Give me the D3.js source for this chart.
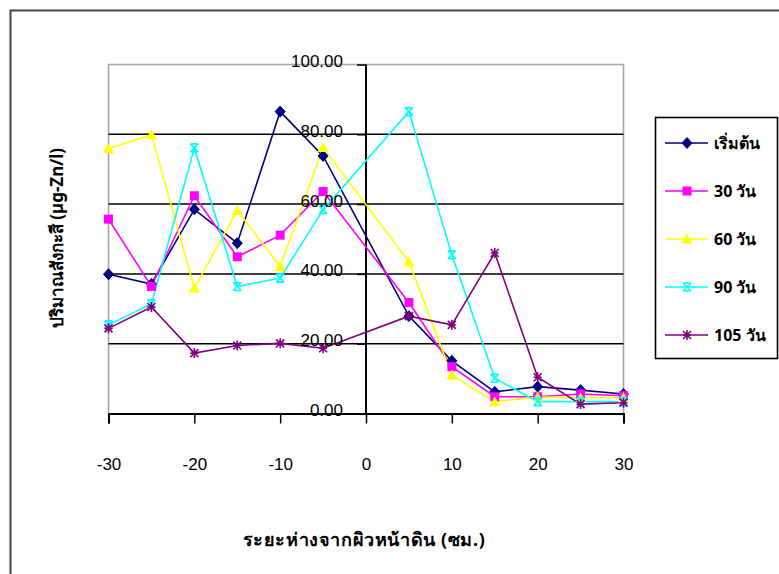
<!DOCTYPE html>
<html>
<head>
<meta charset="utf-8">
<script src="https://cdn.jsdelivr.net/npm/d3@7"></script>
<style>
  html, body { margin: 0; padding: 0; background: #fff; }
  svg { display: block; }
  text { font-family: "Liberation Sans", Arial, sans-serif; fill: #000; }
  .thai { font-family: "Noto Sans", "DejaVu Sans", "Liberation Sans", sans-serif; }
</style>
</head>
<body>
<svg id="chart" width="779" height="574"></svg>
<script>
// Distance from soil surface (cm)
const distances = [-30, -25, -20, -15, -10, -5, 5, 10, 15, 20, 25, 30];

// Zinc concentration (µg-Zn/l) at each sampling time
const day0   = [39.9, 37.1, 58.5, 48.8, 86.5, 73.8, 27.9, 15.1, 6.2, 7.7, 6.7, 5.6];
const day30  = [55.7, 36.4, 62.4, 44.9, 51.1, 63.6, 31.8, 13.4, 4.8, 4.8, 5.6, 5.1];
const day60  = [75.9, 79.9, 35.9, 58.2, 42.1, 76.2, 43.5, 11.0, 3.4, 4.7, 4.5, 4.5];
const day90  = [25.4, 31.4, 76.1, 36.4, 38.8, 58.4, 86.5, 45.5, 10.1, 3.4, 3.4, 3.4];
const day105 = [24.4, 30.5, 17.3, 19.5, 20.1, 18.7, 27.9, 25.4, 46.0, 10.4, 2.7, 3.1];

const seriesNames = ["เริ่มต้น", "30 วัน", "60 วัน", "90 วัน", "105 วัน"];
const seriesColors = ["#000080", "#ff00ff", "#ffff00", "#00ffff", "#800080"];
const seriesMarkers = ["diamond", "square", "triangle", "cross", "star"];
const seriesValues = [day0, day30, day60, day90, day105];

const xTicks = [-30, -20, -10, 0, 10, 20, 30];
const yTicks = [0, 20, 40, 60, 80, 100];

const yTitle = "ปริมาณสังกะสี (µg-Zn/l)";
const xTitle = "ระยะห่างจากผิวหน้าดิน (ซม.)";

const svg = d3.select("#chart");

// chart frame
svg.append("rect")
  .attr("x", 10.5).attr("y", 10.5)
  .attr("width", 800).attr("height", 600)
  .attr("fill", "#fff").attr("stroke", "#444").attr("stroke-width", 2);

const plot = { left: 108.5, right: 623.5, top: 64.5, bottom: 413.5 };
const x = d3.scaleLinear().domain([-30, 30]).range([plot.left, plot.right]);
const y = d3.scaleLinear().domain([0, 100]).range([plot.bottom, plot.top]);

// plot area border (left, top, right)
svg.append("path")
  .attr("d", `M${plot.left},${plot.bottom}V${plot.top}H${plot.right}V${plot.bottom}`)
  .attr("fill", "none").attr("stroke", "#a6a6a6").attr("stroke-width", 1.6);

// major gridlines
svg.append("g").selectAll("line")
  .data(yTicks.filter(t => t > 0 && t < 100))
  .join("line")
  .attr("x1", plot.left).attr("x2", plot.right)
  .attr("y1", d => y(d)).attr("y2", d => y(d))
  .attr("stroke", "#000").attr("stroke-width", 1.5);

// x axis crossing at y = 0, ticks pointing down
const xAxis = d3.axisBottom(x).tickValues(xTicks).tickSize(10).tickFormat(d3.format("d"));
const gx = svg.append("g").attr("transform", `translate(0,${y(0)})`).call(xAxis);
gx.select(".domain").attr("stroke", "#000").attr("stroke-width", 2);
gx.selectAll(".tick line").attr("stroke", "#000").attr("stroke-width", 1.5);
gx.selectAll(".tick text")
  .attr("y", 51).attr("dy", "0.32em")
  .style("font-size", "17px").attr("fill", "#000")
  .text(d => d < 0 ? "-" + Math.abs(d) : d);

// y axis crossing at x = 0, ticks pointing left
const yAxis = d3.axisLeft(y).tickValues(yTicks).tickSize(9).tickFormat(d3.format(".2f"));
const gy = svg.append("g").attr("transform", `translate(${x(0)},0)`).call(yAxis);
gy.select(".domain").attr("stroke", "#000").attr("stroke-width", 2).attr("d", `M0,${plot.top}V${plot.bottom}`);
gy.selectAll(".tick line").attr("stroke", "#000").attr("stroke-width", 1.5);
gy.selectAll(".tick text").remove();

// series lines
const line = d3.line().x((d, i) => x(distances[i])).y(d => y(d));
const series = svg.append("g");
seriesValues.forEach((vals, s) => {
  series.append("path")
    .datum(vals)
    .attr("d", line)
    .attr("fill", "none")
    .attr("stroke", seriesColors[s])
    .attr("stroke-width", 1.6);
});

function marker(g, type, color, cx, cy) {
  const k = g.append("g").attr("transform", `translate(${cx},${cy})`);
  if (type === "diamond") {
    k.append("path").attr("d", "M0,-5.5L5,0L0,5.5L-5,0Z").attr("fill", color).attr("stroke", color);
  } else if (type === "square") {
    k.append("rect").attr("x", -4.5).attr("y", -4.5).attr("width", 9).attr("height", 9).attr("fill", color);
  } else if (type === "triangle") {
    k.append("path").attr("d", "M0,-5.5L5.5,4.5L-5.5,4.5Z").attr("fill", color);
  } else if (type === "cross") {
    k.append("path").attr("d", "M-4,-4L4,4M4,-4L-4,4M-3.5,-4H3.5M-3.5,4H3.5")
      .attr("stroke", color).attr("stroke-width", 1.6).attr("fill", "none");
  } else if (type === "star") {
    k.append("path").attr("d", "M-4,-4L4,4M4,-4L-4,4M0,-5V5M-4,0H4")
      .attr("stroke", color).attr("stroke-width", 1.6).attr("fill", "none");
  }
}

seriesValues.forEach((vals, s) => {
  const g = series.append("g");
  vals.forEach((v, i) => marker(g, seriesMarkers[s], seriesColors[s], x(distances[i]), y(v)));
});

// y tick labels, drawn beside the y axis
svg.append("g").selectAll("text")
  .data(yTicks)
  .join("text")
  .attr("x", x(0) - 23).attr("y", d => y(d) - 3)
  .attr("text-anchor", "end")
  .attr("dy", "0.32em")
  .style("font-size", "17px")
  .text(d => d3.format(".2f")(d));

// axis titles
svg.append("text")
  .attr("class", "thai")
  .attr("transform", `translate(57,238) rotate(-90)`)
  .attr("text-anchor", "middle").attr("dy", "0.35em")
  .style("font-size", "17px").style("font-weight", "bold")
  .text(yTitle);

svg.append("text")
  .attr("class", "thai")
  .attr("x", 364).attr("y", 540)
  .attr("text-anchor", "middle").attr("dy", "0.35em")
  .style("font-size", "18px").style("font-weight", "bold")
  .style("letter-spacing", "0.6px")
  .text(xTitle);

// legend
const legend = svg.append("g");
legend.append("rect")
  .attr("x", 655.5).attr("y", 117.5).attr("width", 122).attr("height", 241)
  .attr("fill", "#fff").attr("stroke", "#000").attr("stroke-width", 1.6);
seriesNames.forEach((name, s) => {
  const ly = 143 + s * 48;
  legend.append("line")
    .attr("x1", 665).attr("x2", 708).attr("y1", ly).attr("y2", ly)
    .attr("stroke", seriesColors[s]).attr("stroke-width", 1.6);
  marker(legend, seriesMarkers[s], seriesColors[s], 687, ly);
  legend.append("text")
    .attr("class", "thai")
    .attr("x", 714).attr("y", ly).attr("dy", "0.35em")
    .style("font-size", "16px").style("font-weight", "bold")
    .text(name);
});
</script>
</body>
</html>
